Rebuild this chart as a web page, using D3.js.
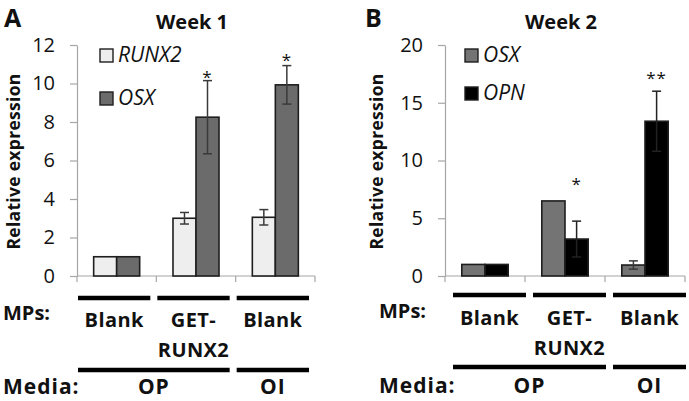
<!DOCTYPE html>
<html>
<head>
<meta charset="utf-8">
<script src="https://cdn.jsdelivr.net/npm/d3@7"></script>
<style>
  html, body { margin: 0; padding: 0; background: #fff; }
  svg { display: block; }
  text { font-family: "Open Sans", "Liberation Sans", sans-serif; fill: #111; }
</style>
</head>
<body>
<svg id="chart" width="689" height="401"></svg>
<script>
// ---------- data ----------
const panelLetters = ["A", "B"];
const weekTitles = ["Week 1", "Week 2"];
const categories = ["c1", "c2", "c3"];
const mpsLabels = [["Blank"], ["GET-", "RUNX2"], ["Blank"]];
const mediaLabels = ["OP", "OI"];
const mediaSpans = [[0, 1], [2, 2]];

// Week 1
const week1Series = ["RUNX2", "OSX"];
const runx2W1 = [1, 3.0, 3.05];
const runx2W1Err = [0, 0.3, 0.4];
const osxW1 = [1, 8.25, 9.93];
const osxW1Err = [0, 1.9, 1.0];
const week1Ticks = [0, 2, 4, 6, 8, 10, 12];
const week1Sig = ["", "*", "*"];          // on OSX
const week1SigLevel = [0, 10.6, 11.5];

// Week 2
const week2Series = ["OSX", "OPN"];
const osxW2 = [1, 6.5, 0.95];
const osxW2Err = [0, 0, 0.36];
const opnW2 = [1, 3.2, 13.4];
const opnW2Err = [0, 1.55, 2.6];
const week2Ticks = [0, 5, 10, 15, 20];
const week2Sig = ["", "*", "**"];         // on OPN
const week2SigLevel = [0, 8.4, 17.6];

// ---------- styling ----------
const colors = { RUNX2: "#eeeeee", OSX: "#6d6d6d", OPN: "#000000" };
const axisColor = "#a6a6a6";

const svg = d3.select("#chart");

const panels = [
  {
    letter: panelLetters[0], title: weekTitles[0], series: week1Series,
    values: [runx2W1, osxW1], errs: [runx2W1Err, osxW1Err],
    ticks: week1Ticks, max: 12, sig: week1Sig, sigLevel: week1SigLevel, sigSeries: 1,
    left: 77, right: 315, letterX: 4, letterY: 27, ylabX: 19.5, headX: 3,
    lineShift: 1, mpsLineY: 298, mpsTextY: 327, mpsHeadY: 320, mediaLineY: 370, mediaY: 394,
    legendX: 100, legendY: [49, 92], osxFill: "#6b6b6b"
  },
  {
    letter: panelLetters[1], title: weekTitles[1], series: week2Series,
    values: [osxW2, opnW2], errs: [osxW2Err, opnW2Err],
    ticks: week2Ticks, max: 20, sig: week2Sig, sigLevel: week2SigLevel, sigSeries: 1,
    left: 445, right: 685, letterX: 365, letterY: 27, ylabX: 383, headX: 379,
    lineShift: 8, mpsLineY: 295, mpsTextY: 325, mpsHeadY: 318, mediaLineY: 367, mediaY: 393,
    legendX: 465, legendY: [49, 87], osxFill: "#747474"
  }
];

const plotTop = 45, plotBottom = 276;

panels.forEach(p => {
  const g = svg.append("g");
  const x = d3.scaleBand().domain(categories).range([p.left, p.right])
    .paddingInner(0.42).paddingOuter(0.21);
  const xs = d3.scaleBand().domain(p.series).range([0, x.bandwidth()]);
  const y = d3.scaleLinear().domain([0, p.max]).range([plotBottom, plotTop]);
  const step = x.step();
  const fillOf = s => s === "OSX" ? p.osxFill : colors[s];

  // panel letter
  g.append("text").attr("x", p.letterX).attr("y", p.letterY)
    .attr("font-size", 25).attr("font-weight", 700).text(p.letter);
  // title
  g.append("text").attr("x", (p.left + p.right) / 2 - 4).attr("y", 29)
    .attr("text-anchor", "middle").attr("font-size", 20).attr("font-weight", 700).text(p.title);

  // y axis
  const yAxis = d3.axisLeft(y).tickValues(p.ticks).tickSize(7).tickPadding(15).tickSizeOuter(0);
  const ya = g.append("g").attr("transform", `translate(${p.left},0)`).call(yAxis);
  ya.select(".domain").attr("stroke", axisColor).attr("stroke-width", 1.2);
  ya.selectAll(".tick line").attr("stroke", axisColor).attr("stroke-width", 1.2);
  ya.selectAll(".tick text").attr("font-size", 20).attr("fill", "#111")
    .attr("font-family", "'Open Sans', sans-serif");

  // x axis (ticks at category boundaries)
  const boundaries = d3.range(categories.length + 1).map(i => p.left + i * step);
  g.append("line").attr("x1", p.left).attr("x2", p.right).attr("y1", plotBottom).attr("y2", plotBottom)
    .attr("stroke", axisColor).attr("stroke-width", 1.2);
  g.selectAll(".xt").data(boundaries).enter().append("line")
    .attr("x1", d => d).attr("x2", d => d).attr("y1", plotBottom).attr("y2", plotBottom + 6)
    .attr("stroke", axisColor).attr("stroke-width", 1.2);

  // y label
  g.append("text")
    .attr("transform", `translate(${p.ylabX},${(plotTop + plotBottom) / 2 + 1}) rotate(-90)`)
    .attr("text-anchor", "middle").attr("font-size", 17.5).attr("font-weight", 700)
    .attr("letter-spacing", 0.3)
    .text("Relative expression");

  // bars
  p.series.forEach((s, si) => {
    const vals = p.values[si];
    g.selectAll(".bar" + si).data(categories).enter().append("rect")
      .attr("x", (c) => x(c) + xs(s))
      .attr("width", xs.bandwidth())
      .attr("y", (c, i) => y(vals[i]))
      .attr("height", (c, i) => y(0) - y(vals[i]))
      .attr("fill", fillOf(s)).attr("stroke", "#1e1e1e").attr("stroke-width", 1.6);
  });

  // error bars
  p.series.forEach((s, si) => {
    const vals = p.values[si], errs = p.errs[si];
    categories.forEach((c, i) => {
      if (!errs[i]) return;
      const cx = x(c) + xs(s) + xs.bandwidth() / 2;
      const col = s === "OPN" ? "#222" : "#3a3a3a";
      const lo = y(vals[i] - errs[i]), hi = y(vals[i] + errs[i]);
      g.append("line").attr("x1", cx).attr("x2", cx).attr("y1", lo).attr("y2", hi)
        .attr("stroke", col).attr("stroke-width", 1.5);
      [lo, hi].forEach(yy => g.append("line").attr("x1", cx - 4.5).attr("x2", cx + 4.5)
        .attr("y1", yy).attr("y2", yy).attr("stroke", col).attr("stroke-width", 1.5));
    });
  });

  // significance marks
  const ss = p.series[p.sigSeries];
  categories.forEach((c, i) => {
    if (!p.sig[i]) return;
    g.append("text").attr("x", x(c) + xs(ss) + xs.bandwidth() / 2)
      .attr("y", y(p.sigLevel[i]) + 11)
      .attr("text-anchor", "middle").attr("font-size", 17).attr("fill", "#333")
      .attr("letter-spacing", 1)
      .text(p.sig[i]);
  });

  // legend
  p.series.forEach((s, si) => {
    const ly = p.legendY[si];
    g.append("rect").attr("x", p.legendX).attr("y", ly).attr("width", 13).attr("height", 13)
      .attr("fill", fillOf(s)).attr("stroke", "#1e1e1e").attr("stroke-width", 1.4);
    g.append("text").attr("x", p.legendX + 18).attr("y", ly + 13)
      .attr("font-size", 21).attr("font-style", "italic").text(s);
  });

  // MPs row
  const seg = (i) => [boundaries[i] + p.lineShift, boundaries[i] + p.lineShift + step - 7];
  categories.forEach((c, i) => {
    const [a, b] = seg(i);
    g.append("line").attr("x1", a).attr("x2", b).attr("y1", p.mpsLineY).attr("y2", p.mpsLineY)
      .attr("stroke", "#000").attr("stroke-width", 4.5);
    mpsLabels[i].forEach((t, k) => {
      g.append("text").attr("x", (a + b) / 2).attr("y", p.mpsTextY + k * 30)
        .attr("text-anchor", "middle").attr("font-size", 20).attr("font-weight", 700)
        .attr("letter-spacing", 0.4).text(t);
    });
  });
  g.append("text").attr("x", p.headX).attr("y", p.mpsHeadY)
    .attr("font-size", 20).attr("font-weight", 700).text("MPs:");

  // Media row
  mediaSpans.forEach((sp, j) => {
    const a = seg(sp[0])[0], b = seg(sp[1])[1];
    g.append("line").attr("x1", a).attr("x2", b).attr("y1", p.mediaLineY).attr("y2", p.mediaLineY)
      .attr("stroke", "#000").attr("stroke-width", 4.5);
    g.append("text").attr("x", (a + b) / 2).attr("y", p.mediaY)
      .attr("text-anchor", "middle").attr("font-size", 21).attr("font-weight", 700)
      .attr("letter-spacing", 1).text(mediaLabels[j]);
  });
  g.append("text").attr("x", p.headX).attr("y", p.mediaY)
    .attr("font-size", 21).attr("font-weight", 700).attr("letter-spacing", 1).text("Media:");
});
</script>
</body>
</html>
